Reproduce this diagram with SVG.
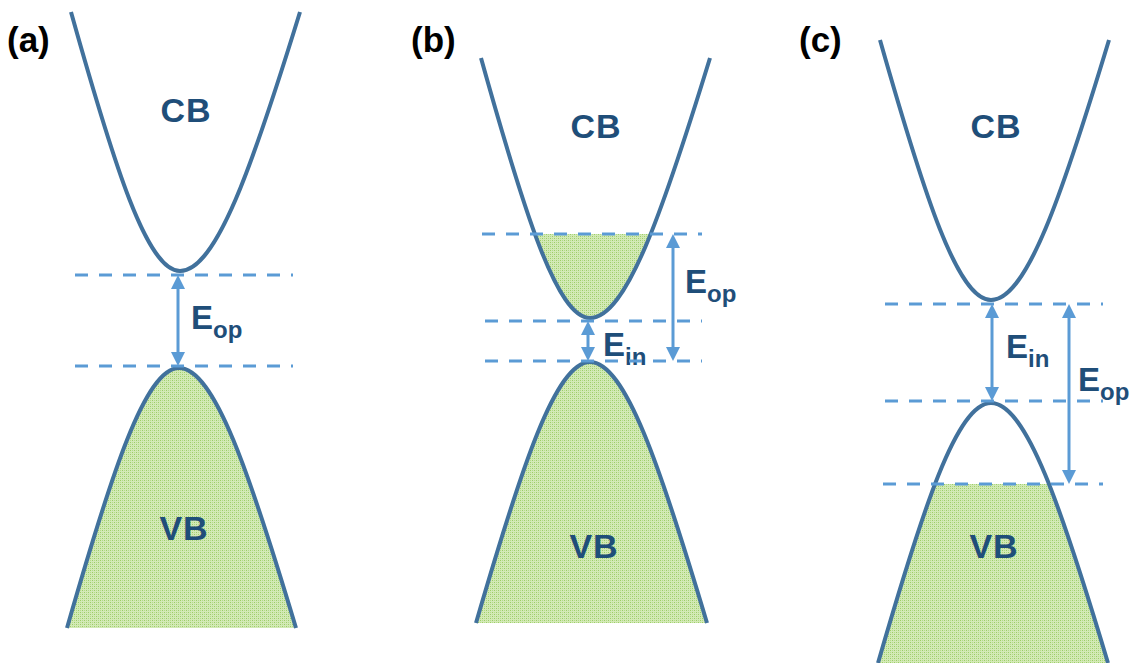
<svg xmlns="http://www.w3.org/2000/svg" width="1133" height="663" viewBox="0 0 1133 663">
  <style>
    .band { fill: none; stroke: #41719C; stroke-width: 4; stroke-linejoin: round; }
    .fill { fill: url(#checker); stroke: none; }
    .dash { stroke: #5B9BD5; stroke-width: 3; stroke-dasharray: 13 11; fill: none; }
    .arrow { stroke: #5B9BD5; stroke-width: 3; fill: none; marker-start: url(#head); marker-end: url(#head); }
    .lbl { font-family: "Liberation Sans", Arial, sans-serif; font-weight: bold; fill: #1F4E79; }
    .band-lbl { font-size: 34px; text-anchor: middle; letter-spacing: 1px; }
    .e { font-size: 33px; }
    .sub { font-size: 24px; }
    .panel { font-family: "Liberation Sans", Arial, sans-serif; font-weight: bold; font-size: 35px; fill: #000; }
  </style>
  <defs>
    <pattern id="checker" width="4" height="4" patternUnits="userSpaceOnUse">
      <rect width="4" height="4" fill="#d3eab6"/>
      <rect x="0" y="0" width="1" height="1" fill="#9ccd66"/>
      <rect x="2" y="2" width="1" height="1" fill="#9ccd66"/>
      <rect x="2" y="0" width="1" height="1" fill="#b4da8a"/>
      <rect x="0" y="2" width="1" height="1" fill="#b4da8a"/>
    </pattern>
    <marker id="head" viewBox="0 0 14 14" refX="0" refY="7" markerWidth="14" markerHeight="14" markerUnits="userSpaceOnUse" orient="auto-start-reverse">
      <path d="M0,0 L14,7 L0,14 Z" fill="#5B9BD5"/>
    </marker>
    <clipPath id="clipB"><rect x="400" y="234" width="400" height="200"/></clipPath>
    <clipPath id="clipC"><rect x="800" y="484" width="333" height="200"/></clipPath>
  </defs>

  <!-- Panel (a) -->
  <g id="panel-a">
    <text class="panel" x="7" y="52">(a)</text>
    <g id="a-vb">
      <path class="fill" d="M67,628 C111.8,472 145.4,368 179,368 C214.1,368 249.2,472 296,628 Z"/>
      <path class="band" d="M67,628 C111.8,472 145.4,368 179,368 C214.1,368 249.2,472 296,628"/>
      <text class="lbl band-lbl" x="184" y="540">VB</text>
    </g>
    <g id="a-cb">
      <path class="band" d="M71,12 C114.6,167.4 147.3,271 180,271 C216,271 252,167.4 300,12"/>
      <text class="lbl band-lbl" x="186" y="122">CB</text>
    </g>
    <text class="lbl e" x="191" y="329">E<tspan class="sub" dy="9">op</tspan></text>
  </g>

  <!-- Panel (b) -->
  <g id="panel-b">
    <text class="panel" x="411" y="52">(b)</text>
    <g id="b-vb">
      <path class="fill" d="M476,623 C521.6,466.4 555.8,362 590,362 C625.1,362 660.2,466.4 707,623 Z"/>
      <path class="band" d="M476,623 C521.6,466.4 555.8,362 590,362 C625.1,362 660.2,466.4 707,623"/>
      <text class="lbl band-lbl" x="594" y="558">VB</text>
    </g>
    <g id="b-cb">
      <path class="fill" clip-path="url(#clipB)" d="M481,58 C524.6,214 557.3,318 590,318 C626,318 662,214 710,58 Z"/>
      <path class="band" d="M481,58 C524.6,214 557.3,318 590,318 C626,318 662,214 710,58"/>
      <text class="lbl band-lbl" x="596" y="138">CB</text>
    </g>
    <text class="lbl e" x="685" y="293">E<tspan class="sub" dy="9">op</tspan></text>
    <text class="lbl e" x="603" y="356">E<tspan class="sub" dy="9">in</tspan></text>
  </g>

  <!-- Panel (c) -->
  <g id="panel-c">
    <text class="panel" x="799" y="52">(c)</text>
    <g id="c-vb">
      <path class="fill" clip-path="url(#clipC)" d="M878,663 C923.2,507 957.1,403 991,403 C1026.1,403 1061.2,507 1108,663 Z"/>
      <path class="band" d="M878,663 C923.2,507 957.1,403 991,403 C1026.1,403 1061.2,507 1108,663"/>
      <text class="lbl band-lbl" x="994" y="558">VB</text>
    </g>
    <g id="c-cb">
      <path class="band" d="M880,40 C924.4,196 957.7,300 991,300 C1026.4,300 1061.8,196 1109,40"/>
      <text class="lbl band-lbl" x="996" y="138">CB</text>
    </g>
    <text class="lbl e" x="1006" y="358">E<tspan class="sub" dy="9">in</tspan></text>
    <text class="lbl e" x="1078" y="391">E<tspan class="sub" dy="9">op</tspan></text>
  </g>

  <!-- Connectors: level lines and energy arrows -->
  <g id="connectors">
    <line class="dash" x1="75" y1="275" x2="293" y2="275"/>
    <line class="dash" x1="75" y1="366" x2="293" y2="366"/>
    <line class="dash" x1="482" y1="234" x2="702" y2="234"/>
    <line class="dash" x1="485" y1="321" x2="702" y2="321"/>
    <line class="dash" x1="485" y1="361" x2="702" y2="361"/>
    <line class="dash" x1="885" y1="304" x2="1103" y2="304"/>
    <line class="dash" x1="885" y1="401" x2="1103" y2="401"/>
    <line class="dash" x1="883" y1="484" x2="1103" y2="484"/>
    <line class="arrow" x1="178" y1="289" x2="178" y2="352"/>
    <line class="arrow" x1="588" y1="335" x2="588" y2="347"/>
    <line class="arrow" x1="673" y1="248" x2="673" y2="347"/>
    <line class="arrow" x1="992" y1="318" x2="992" y2="387"/>
    <line class="arrow" x1="1069" y1="318" x2="1069" y2="470"/>
  </g>
</svg>
